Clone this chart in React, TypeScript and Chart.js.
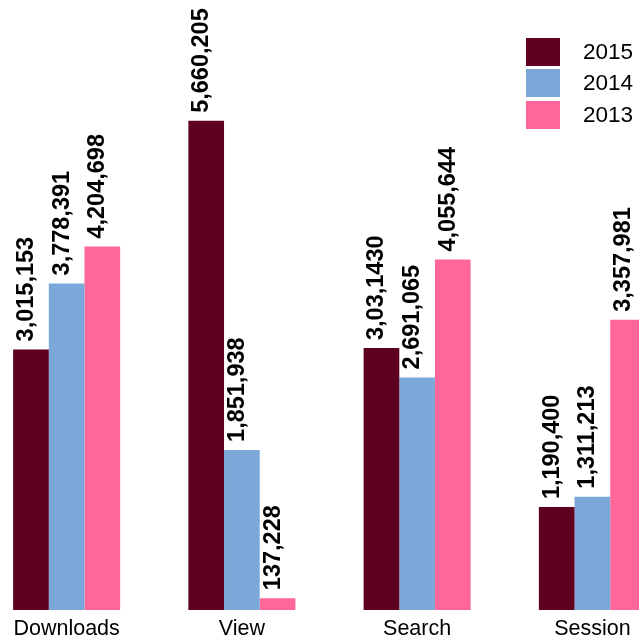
import React, { useEffect, useRef } from "react";
import { Chart, registerables } from "chart.js";

Chart.register(...registerables);

const categories = ["Downloads", "View", "Search", "Session"];
const seriesNames = ["2015", "2014", "2013"];
const seriesColors = ["#5e001f", "#7ba7d9", "#ff6699"];
const values2015 = [3015153, 5660205, 3031430, 1190400];
const values2014 = [3778391, 1851938, 2691065, 1311213];
const values2013 = [4204698, 137228, 4055644, 3357981];
const labels2015 = ["3,015,153", "5,660,205", "3,03,1430", "1,190,400"];
const labels2014 = ["3,778,391", "1,851,938", "2,691,065", "1,311,213"];
const labels2013 = ["4,204,698", "137,228", "4,055,644", "3,357,981"];
const yMax = 7000000;

const FONT = "'Liberation Sans', Arial, Helvetica, sans-serif";

const valueLabelPlugin = {
  id: "valueLabels",
  afterDatasetsDraw(chart: any) {
    const ctx = chart.ctx;
    chart.data.datasets.forEach((ds: any, i: number) => {
      const meta = chart.getDatasetMeta(i);
      meta.data.forEach((bar: any, j: number) => {
        const text = ds.valueLabels[j];
        ctx.save();
        ctx.translate(bar.x - 4.5, bar.y - 8);
        ctx.rotate(-Math.PI / 2);
        ctx.font = `bold 23.5px ${FONT}`;
        ctx.fillStyle = "#000";
        ctx.textAlign = "left";
        ctx.textBaseline = "middle";
        ctx.fillText(text, 0, 0);
        ctx.restore();
      });
    });
  },
};

export default function App() {
  const canvasRef = useRef<HTMLCanvasElement | null>(null);

  useEffect(() => {
    if (!canvasRef.current) return;
    const seriesValues = [values2015, values2014, values2013];
    const seriesLabels = [labels2015, labels2014, labels2013];
    const chart = new Chart(canvasRef.current, {
      type: "bar",
      data: {
        labels: categories,
        datasets: seriesNames.map((name, i) => ({
          label: name,
          data: seriesValues[i],
          backgroundColor: seriesColors[i],
          borderWidth: 0,
          categoryPercentage: 0.6107,
          barPercentage: 1,
          valueLabels: seriesLabels[i],
        })) as any,
      },
      options: {
        animation: false,
        responsive: true,
        maintainAspectRatio: false,
        layout: { padding: 0 },
        plugins: {
          legend: { display: false },
          tooltip: { enabled: false },
        },
        scales: {
          x: {
            grid: { display: false, drawTicks: false },
            border: { display: false },
            ticks: {
              color: "#000",
              padding: 6,
              font: { family: FONT, size: 21.5 },
              maxRotation: 0,
              autoSkip: false,
            },
            afterFit: (scale: any) => {
              scale.height = 31;
            },
          },
          y: {
            display: false,
            min: 0,
            max: yMax,
          },
        },
      },
      plugins: [valueLabelPlugin],
    });
    return () => chart.destroy();
  }, []);

  return (
    <div
      style={{
        position: "fixed",
        left: 0,
        top: 0,
        width: 639,
        height: 641,
        overflow: "hidden",
        background: "#fff",
      }}
    >
      <div
        style={{
          position: "absolute",
          left: -21,
          top: 5,
          width: 701,
          height: 636,
        }}
      >
        <canvas ref={canvasRef} />
      </div>
      {seriesNames.map((name, i) => (
        <React.Fragment key={name}>
          <div
            style={{
              position: "absolute",
              left: 526,
              top: 37.5 + i * 31.6,
              width: 34,
              height: 28,
              background: seriesColors[i],
            }}
          />
          <div
            style={{
              position: "absolute",
              left: 583,
              top: 37.5 + i * 31.6,
              height: 28,
              lineHeight: "28px",
              fontFamily: FONT,
              fontSize: 22.5,
              color: "#000",
              whiteSpace: "nowrap",
            }}
          >
            {name}
          </div>
        </React.Fragment>
      ))}
    </div>
  );
}
